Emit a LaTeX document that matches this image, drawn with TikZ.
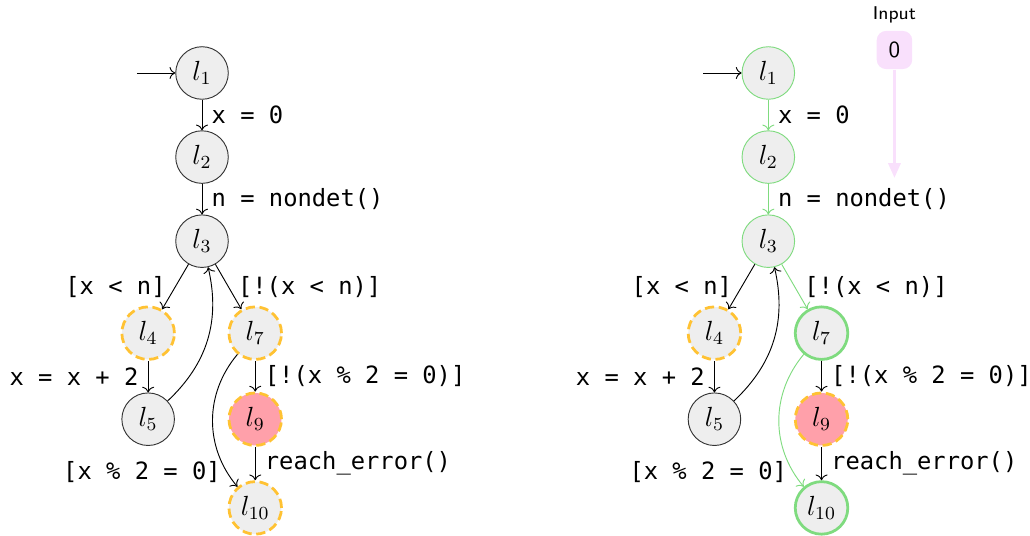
\documentclass[tikz,border=0pt]{standalone}
\usepackage{fontspec}
\setmonofont[Scale=1.03]{DejaVu Sans Mono}
\usepackage{tikz}
\usetikzlibrary{positioning,arrows.meta}
\definecolor{locgray}{HTML}{EEEEEE}
\definecolor{sliceorange}{HTML}{FFC233}
\definecolor{errpink}{HTML}{FFA0AA}
\definecolor{tracegreen}{HTML}{7FDB7F}
\definecolor{inputpink}{HTML}{F9E0FC}

\begin{document}
\begin{tikzpicture}[on grid,inner sep=2pt,
    loc/.style={circle,draw=black!80,fill=locgray,minimum size=0.8cm,inner sep=0pt,font=\large},
    sliced/.style={loc,draw=sliceorange,very thick,dash pattern=on 4pt off 2pt},
    errloc/.style={sliced,fill=errpink},
    witness/.style={loc,draw=tracegreen},
    witnessloc/.style={witness,very thick},
    stmt/.style={font=\ttfamily,inner sep=4pt}]
\useasboundingbox (-3.075,1.111) rectangle (12.603,-7.047);
% left: slice of the program
\node[loc] (l1) at (0,0) {$l_1$};
\node[loc, below=1.28cm of l1] (l2) {$l_2$};
\node[loc, below=1.28cm of l2] (l3) {$l_3$};
\node[sliced, below left=1.40cm and 0.82cm of l3] (l4) {$l_4$};
\node[sliced, below right=1.40cm and 0.81cm of l3] (l7) {$l_7$};
\node[loc, below=1.31cm of l4] (l5) {$l_5$};
\node[errloc, below=1.31cm of l7] (l9) {$l_9$};
\node[sliced, below=1.35cm of l9] (l10) {$l_{10}$};
\coordinate[left=0.99cm of l1] (s1);
\draw[->] (s1) -- (l1);
\draw[->] (l1) -- node[stmt,right] {x = 0} (l2);
\draw[->] (l2) -- node[stmt,right] {n = nondet()} (l3);
\draw[->] (l3) -- node[stmt,left] {[x < n]} (l4);
\draw[->] (l3) -- node[stmt,right] {[!(x < n)]} (l7);
\draw[->] (l4) -- node[stmt,left] {x = x + 2} (l5);
\draw[->] (l5) to[bend right] (l3);
\draw[->] (l7) -- node[stmt,right] {[!(x \% 2 = 0)]} (l9);
\draw[->] (l7) to[bend right=40] node[stmt,pos=0.88,left,inner sep=2.5pt] {[x \% 2 = 0]} (l10);
\draw[->] (l9) -- node[stmt,right] {reach\_error()} (l10);

% right: the same, with the witness run
\node[witness, right=8.62cm of l1] (r1) {$l_1$};
\node[witness, below=1.28cm of r1] (r2) {$l_2$};
\node[witness, below=1.28cm of r2] (r3) {$l_3$};
\node[sliced, below left=1.40cm and 0.82cm of r3] (r4) {$l_4$};
\node[witnessloc, below right=1.40cm and 0.81cm of r3] (r7) {$l_7$};
\node[loc, below=1.31cm of r4] (r5) {$l_5$};
\node[errloc, below=1.31cm of r7] (r9) {$l_9$};
\node[witnessloc, below=1.35cm of r9] (r10) {$l_{10}$};
\coordinate[left=0.99cm of r1] (s2);
\draw[->] (s2) -- (r1);
\draw[->,tracegreen] (r1) -- node[stmt,right,black] {x = 0} (r2);
\draw[->,tracegreen] (r2) -- node[stmt,right,black] {n = nondet()} (r3);
\draw[->] (r3) -- node[stmt,left] {[x < n]} (r4);
\draw[->,tracegreen] (r3) -- node[stmt,right,black] {[!(x < n)]} (r7);
\draw[->] (r4) -- node[stmt,left] {x = x + 2} (r5);
\draw[->] (r5) to[bend right] (r3);
\draw[->] (r7) -- node[stmt,right] {[!(x \% 2 = 0)]} (r9);
\draw[->,tracegreen] (r7) to[bend right=40] node[stmt,pos=0.88,left,inner sep=2.5pt,black] {[x \% 2 = 0]} (r10);
\draw[->] (r9) -- node[stmt,right] {reach\_error()} (r10);

% input value
\node[fill=inputpink, rounded corners=4pt, minimum width=0.54cm, minimum height=0.58cm, font=\sffamily,
  label={[font=\sffamily\footnotesize,label distance=1pt]above:Input}, above right=0.35cm and 1.92cm of r1] (in0) {0};
\coordinate[below=1.95cm of in0] (inend);
\draw[inputpink, line width=1.5pt, -{Triangle[length=6.5pt,width=5.2pt]}] (in0) -- (inend);
\end{tikzpicture}
\end{document}
